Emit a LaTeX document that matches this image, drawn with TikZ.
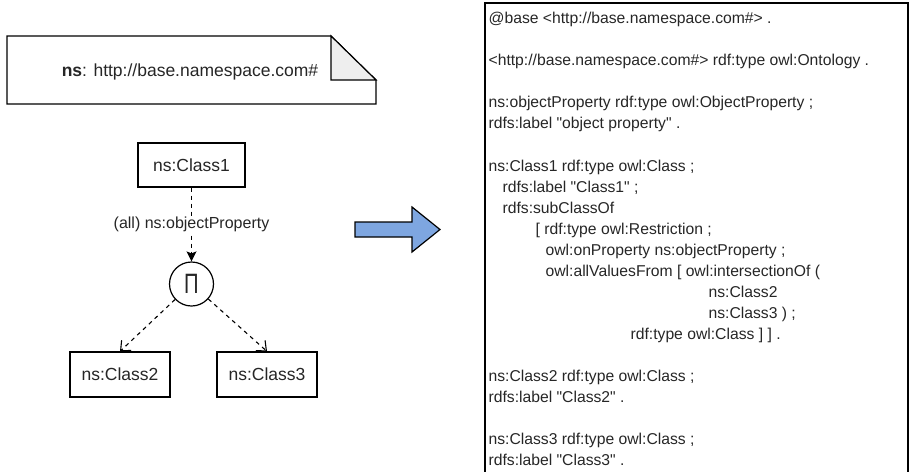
\documentclass[tikz,border=0pt]{standalone}
\usepackage{fontspec}
\setmainfont{Liberation Sans}[Ligatures=TeXOff]
\usetikzlibrary{arrows.meta}
\definecolor{arrowblue}{HTML}{7EA6E0}
\definecolor{foldgray}{HTML}{EEEEEE}
\definecolor{txt}{HTML}{262626}
\begin{document}
\begin{tikzpicture}[x=1pt,y=-1pt,
  line width=1.2pt,
  every node/.style={text=txt},
  cls/.style={draw, line width=1.2pt, inner sep=0pt, font=\fontsize{17.5}{20}\selectfont},
  lbl/.style={fill=white, inner sep=1pt, font=\fontsize{16}{19}\selectfont},
  ttl/.style={anchor=base west, inner sep=0pt, font=\fontsize{15.7}{18}\selectfont},
  dashline/.style={dash pattern=on 4pt off 4pt, line width=1.1pt}
]
\useasboundingbox (0,0) rectangle (912,471);

% namespace note
\draw (7,36) -- (331,36) -- (376,80) -- (376,104) -- (7,104) -- cycle;
\draw[fill=foldgray] (331,36) -- (331,80) -- (376,80) -- cycle;
\node[font=\fontsize{17.5}{20}\selectfont] (ns) at (190,72) {\textbf{ns}: http://base.namespace.com\#};

% classes
\node[cls, minimum width=107pt, minimum height=44pt] (c1) at (191.5,165) {ns:Class1};
\node[circle, draw, line width=1.2pt, minimum size=44pt, inner sep=0pt] (and) at (191.5,284)
  {\scalebox{0.72}[1]{\fontsize{28}{28}\selectfont Π}};
\node[cls, minimum width=100pt, minimum height=45pt] (c2) at (120,374.5) {ns:Class2};
\node[cls, minimum width=100pt, minimum height=45pt] (c3) at (267,374.5) {ns:Class3};

\draw[dashline, -{Stealth[length=10pt,width=10pt,inset=2pt]}] (c1) -- (and)
  node[lbl, midway] (plab) {(all) ns:objectProperty};
\draw[dashline, -{Straight Barb[length=8pt,width=14pt]}] (and) -- (c2.north);
\draw[dashline, -{Straight Barb[length=8pt,width=14pt]}] (and) -- (c3.north);

% big arrow
\draw[fill=arrowblue, line width=1.2pt, line join=miter]
  (355,222) -- (412,222) -- (412,207) -- (440,229.5) -- (412,252) -- (412,237) -- (355,237) -- cycle;

% turtle box
\draw (485,474) -- (485,3) -- (908,3) -- (908,474);
\node[ttl] (t0)  at (488,23.7)  {@base <http://base.namespace.com\#> .};
\node[ttl] (t2)  at (488,65.8)  {<http://base.namespace.com\#> rdf:type owl:Ontology .};
\node[ttl] (t4)  at (488,107.9) {ns:objectProperty rdf:type owl:ObjectProperty ;};
\node[ttl] (t5)  at (488,128.9) {rdfs:label "object property" .};
\node[ttl] (t7)  at (488,171.1) {ns:Class1 rdf:type owl:Class ;};
\node[ttl] (t8)  at (502,192.1) {rdfs:label "Class1" ;};
\node[ttl] (t9)  at (502,213.2) {rdfs:subClassOf};
\node[ttl] (t10) at (535,234.2) {[ rdf:type owl:Restriction ;};
\node[ttl] (t11) at (545,255.3) {owl:onProperty ns:objectProperty ;};
\node[ttl] (t12) at (545,276.3) {owl:allValuesFrom [ owl:intersectionOf (};
\node[ttl] (t13) at (708,297.4) {ns:Class2};
\node[ttl] (t14) at (708,318.4) {ns:Class3 ) ;};
\node[ttl] (t15) at (630,339.5) {rdf:type owl:Class ] ] .};
\node[ttl] (t17) at (488,381.6) {ns:Class2 rdf:type owl:Class ;};
\node[ttl] (t18) at (488,402.6) {rdfs:label "Class2" .};
\node[ttl] (t20) at (488,444.7) {ns:Class3 rdf:type owl:Class ;};
\node[ttl] (t21) at (488,465.7) {rdfs:label "Class3" .};
\end{tikzpicture}
\end{document}
